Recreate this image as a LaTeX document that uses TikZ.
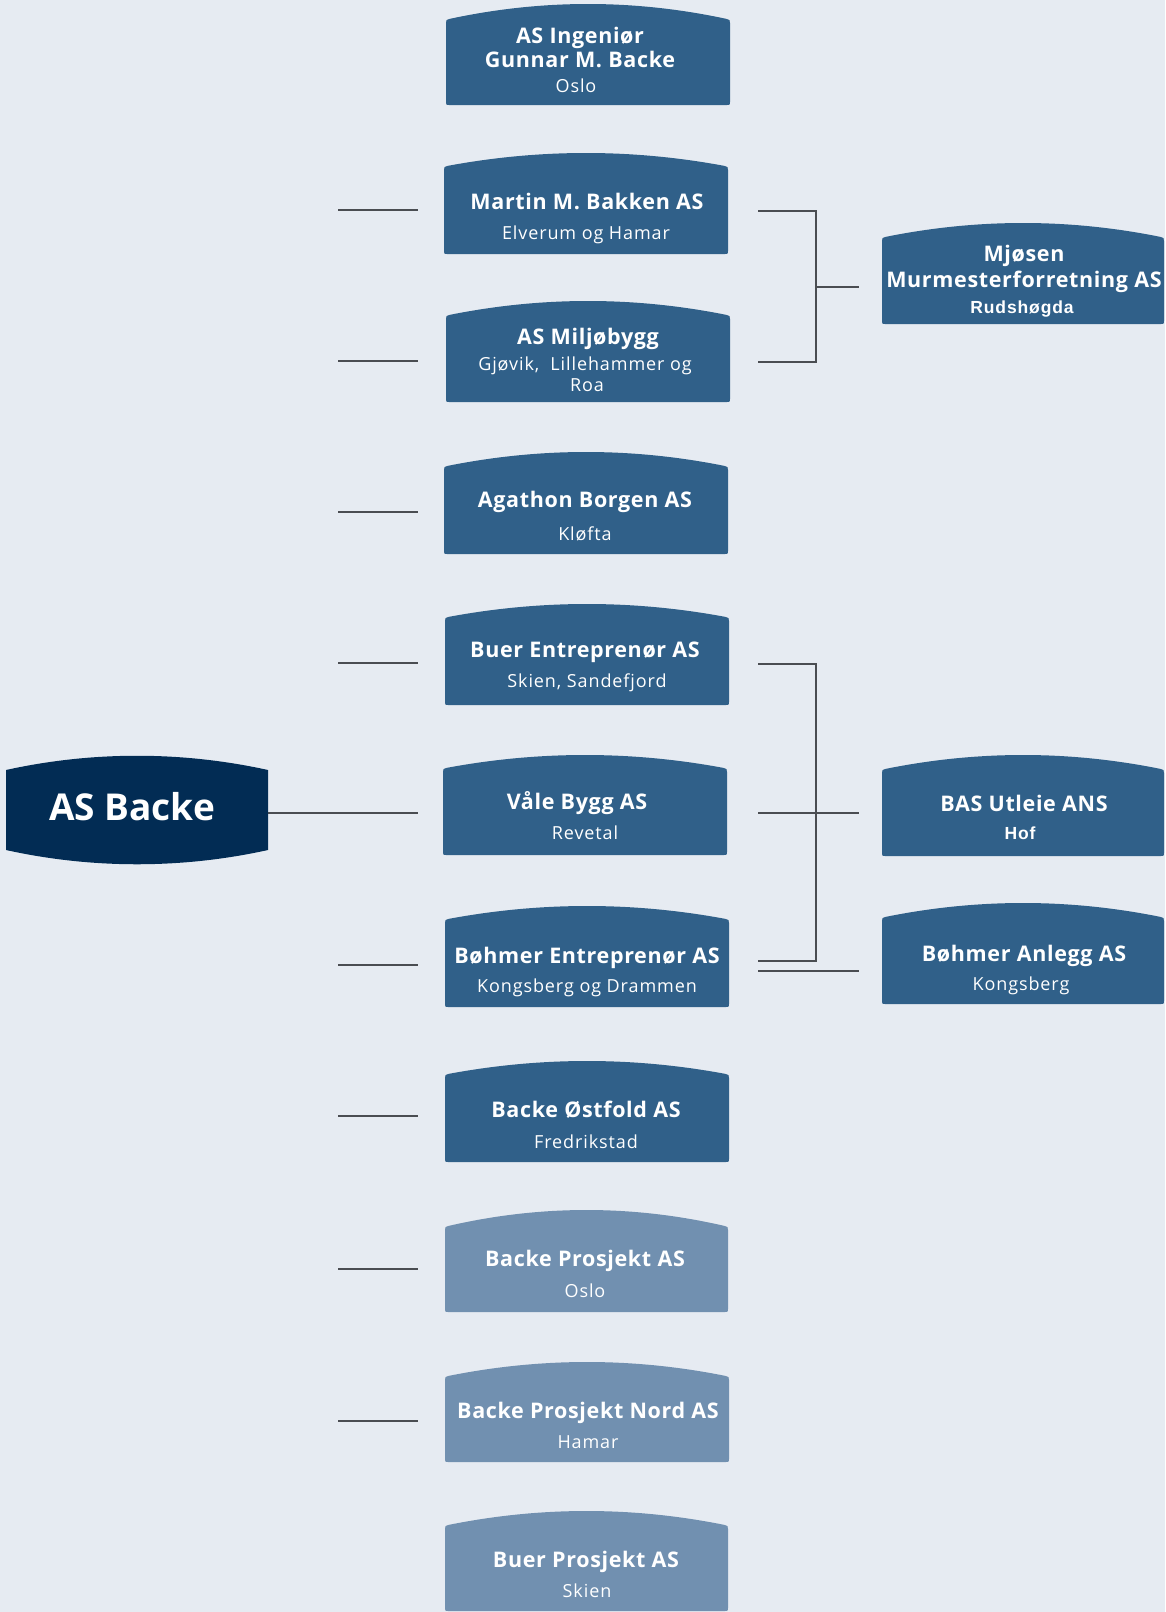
\documentclass[tikz,border=0pt]{standalone}
\usepackage{fontspec}
\setmainfont{Open Sans}
\newfontfamily\arialfont{Liberation Sans}
\definecolor{bg}{HTML}{E6EBF2}
\definecolor{midblue}{HTML}{306089}
\definecolor{lightblue}{HTML}{7190B0}
\definecolor{darkblue}{HTML}{022C54}
\definecolor{linegray}{HTML}{4A4D52}
\newcommand\orgshape[6]{%
  \pgfmathsetmacro\xa{#2+4}\pgfmathsetmacro\xb{#3-4}%
  \pgfmathsetmacro\ys{#5-1.2}%
  \pgfmathsetmacro\yc{\ys-4/3*(\ys-#4)}%
  \pgfmathsetmacro\xca{\xa+(\xb-\xa)/3}\pgfmathsetmacro\xcb{\xb-(\xb-\xa)/3}%
  \fill[#1] (#2,#6-3) -- (#2,#5+3) .. controls (#2,#5) .. (\xa,\ys)
     .. controls (\xca,\yc) and (\xcb,\yc) .. (\xb,\ys)
     .. controls (#3,#5) .. (#3,#5+3) -- (#3,#6-3) .. controls (#3,#6) .. (#3-3,#6)
     -- (#2+3,#6) .. controls (#2,#6) .. cycle;
}
\newcommand\orgnode[5]{% name, L, R, T, B
  \node[inner sep=0, minimum width={#3-#2}, minimum height={#5-#4}] (#1) at ({(#2+#3)/2},{(#4+#5)/2}) {};
}
\tikzset{
  ttl/.style={anchor=base, text=white, inner sep=0, font=\bfseries\fontsize{21.5}{24}\selectfont\addfontfeature{LetterSpace=3}},
  sbt/.style={anchor=base, text=white, inner sep=0, font=\fontsize{18}{20}\selectfont\addfontfeature{LetterSpace=5}},
  sba/.style={anchor=base, text=white, inner sep=0, font=\arialfont\bfseries\fontsize{17.5}{20}\selectfont\addfontfeature{LetterSpace=5}},
  conn/.style={draw=linegray, line width=1.2pt},
}
\begin{document}
\begin{tikzpicture}[x=1pt,y=-1pt]
\fill[bg] (0,0) rectangle (1165,1612);
\useasboundingbox (0,0) rectangle (1165,1612);

% ---- AS Backe (top and bottom arcs)
\fill[darkblue] (6,770) .. controls (92,751) and (182,751) .. (268,770)
  -- (268,850) .. controls (182,869) and (92,869) .. (6,850) -- cycle;
\node[inner sep=0, minimum width=262, minimum height=86] (asbacke) at (137,813) {};
\node[anchor=base, text=white, inner sep=0, font=\bfseries\fontsize{37}{40}\selectfont] (asbacke-t) at (132,820) {AS Backe};

% ---- column boxes
\orgshape{midblue}{446}{730}{4}{20}{105}
\orgshape{midblue}{444}{728}{153}{167}{254}
\orgshape{midblue}{446}{730}{301}{316}{402}
\orgshape{midblue}{444}{728}{452}{467}{554}
\orgshape{midblue}{445}{729}{604}{618}{705}
\orgshape{midblue}{443}{727}{755}{769}{855}
\orgshape{midblue}{445}{729}{906}{920}{1007}
\orgshape{midblue}{445}{729}{1061}{1075}{1162}
\orgshape{lightblue}{445}{728}{1210}{1227}{1312}
\orgshape{lightblue}{445}{729}{1362}{1377}{1462}
\orgshape{lightblue}{445}{728}{1511}{1526}{1611}
\orgshape{midblue}{882}{1164}{223}{238}{324}
\orgshape{midblue}{882}{1164}{755}{770}{856}
\orgshape{midblue}{882}{1164}{903}{918}{1004}

\orgnode{ing}{446}{730}{4}{105}
\orgnode{martin}{444}{728}{153}{254}
\orgnode{milj}{446}{730}{301}{402}
\orgnode{agathon}{444}{728}{452}{554}
\orgnode{buer}{445}{729}{604}{705}
\orgnode{vale}{443}{727}{755}{855}
\orgnode{bohmer}{445}{729}{906}{1007}
\orgnode{ostfold}{445}{729}{1061}{1162}
\orgnode{prosjekt}{445}{728}{1210}{1312}
\orgnode{nord}{445}{729}{1362}{1462}
\orgnode{buerp}{445}{728}{1511}{1611}
\orgnode{mjosen}{882}{1164}{223}{324}
\orgnode{bas}{882}{1164}{755}{856}
\orgnode{anlegg}{882}{1164}{903}{1004}

% ---- texts
\node[ttl] (ing-t1) at (580,43) {AS Ingeniør};
\node[ttl] (ing-t2) at (580,67) {Gunnar M. Backe};
\node[sbt] (ing-s) at (576,92) {Oslo};
\node[ttl] (martin-t) at (587,209) {Martin M. Bakken AS};
\node[sbt] (martin-s) at (586,239) {Elverum og Hamar};
\node[ttl] (milj-t) at (588,344) {AS Miljøbygg};
\node[sbt] (milj-s1) at (585,370) {Gjøvik,\ \ Lillehammer og};
\node[sbt] (milj-s2) at (587,391) {Roa};
\node[ttl] (agathon-t) at (585,507) {Agathon Borgen AS};
\node[sbt] (agathon-s) at (585,540) {Kløfta};
\node[ttl] (buer-t) at (585,657) {Buer Entreprenør AS};
\node[sbt] (buer-s) at (587,687) {Skien, Sandefjord};
\node[ttl] (vale-t) at (577,809) {Våle Bygg AS};
\node[sbt] (vale-s) at (585,839) {Revetal};
\node[ttl] (bohmer-t) at (587,963) {Bøhmer Entreprenør AS};
\node[sbt] (bohmer-s) at (587,992) {Kongsberg og Drammen};
\node[ttl] (ostfold-t) at (586,1117) {Backe Østfold AS};
\node[sbt] (ostfold-s) at (586,1148) {Fredrikstad};
\node[ttl] (prosjekt-t) at (585,1266) {Backe Prosjekt AS};
\node[sbt] (prosjekt-s) at (585,1297) {Oslo};
\node[ttl] (nord-t) at (588,1418) {Backe Prosjekt Nord AS};
\node[sbt] (nord-s) at (588,1448) {Hamar};
\node[ttl] (buerp-t) at (586,1567) {Buer Prosjekt AS};
\node[sbt] (buerp-s) at (587,1597) {Skien};
\node[ttl] (mjosen-t1) at (1024,261) {Mjøsen};
\node[ttl] (mjosen-t2) at (1024,287) {Murmesterforretning AS};
\node[sba] (mjosen-s) at (1022,313) {Rudshøgda};
\node[ttl] (bas-t) at (1024,811) {BAS Utleie ANS};
\node[sba] (bas-s) at (1020,839) {Hof};
\node[ttl] (anlegg-t) at (1024,961) {Bøhmer Anlegg AS};
\node[sbt] (anlegg-s) at (1021,990) {Kongsberg};

% ---- connector end points
\foreach \n/\y in {1/210,2/361,3/512,4/663,5/965,6/1116,7/1269,8/1421}{
  \coordinate (sl\n) at (338,\y);
  \coordinate (sr\n) at (418,\y);
}
\coordinate (valein) at (418,813);
\coordinate (ma) at (758,211);
\coordinate (mb) at (758,362);
\coordinate (mj) at (816,287);
\coordinate (mjin) at (859,287);
\coordinate (ba) at (758,664);
\coordinate (bb) at (758,961);
\coordinate (bv) at (758,813);
\coordinate (bvin) at (859,813);
\coordinate (bc) at (758,971);
\coordinate (bcin) at (859,971);

% ---- connectors
\foreach \n in {1,...,8}{ \draw[conn] (sl\n) -- (sr\n); }
\draw[conn] (asbacke.east) -- (valein);
\draw[conn] (ma) -- (816,211) -- (816,362) -- (mb);
\draw[conn] (mj) -- (mjin);
\draw[conn] (ba) -- (816,664) -- (816,961) -- (bb);
\draw[conn] (bv) -- (bvin);
\draw[conn] (bc) -- (bcin);
\end{tikzpicture}
\end{document}
